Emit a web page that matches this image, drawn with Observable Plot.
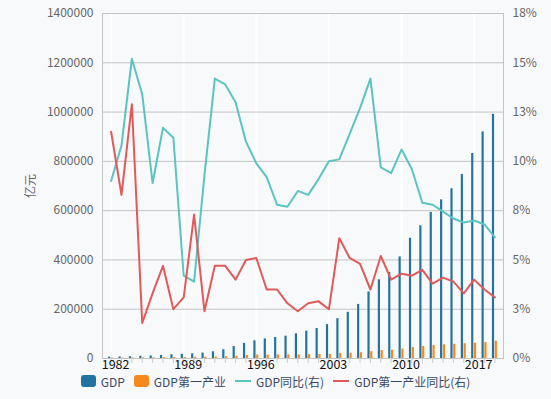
<!DOCTYPE html>
<html><head><meta charset="utf-8">
<script src="https://cdn.jsdelivr.net/npm/d3@7"></script>
<script src="https://cdn.jsdelivr.net/npm/@observablehq/plot@0.6"></script>
<style>
html,body{margin:0;padding:0;background:#f8f9fb;}
#chart{width:551px;height:399px;position:relative;font-family:"Noto Sans CJK SC","Noto Sans",sans-serif;}
#legend{display:flex;justify-content:center;align-items:center;height:18px;font-size:12px;color:#3d4a66;}
.item{display:flex;align-items:center;margin:0 4.5px;}
.sw{width:15px;height:12px;border-radius:3px;margin-right:5px;}
.ln{width:16px;height:2px;margin-right:5px;}
</style></head><body><div id="chart"></div>
<script>
const years = [1982,1983,1984,1985,1986,1987,1988,1989,1990,1991,1992,1993,1994,1995,1996,1997,1998,1999,2000,2001,2002,2003,2004,2005,2006,2007,2008,2009,2010,2011,2012,2013,2014,2015,2016,2017,2018,2019];
const gdp = [5373,6021,7279,9099,10376,12175,15180,17180,18873,22006,27195,35673,48638,61340,71814,79715,85196,90564,100280,110863,121717,137422,161840,187319,219439,270092,319245,348518,412119,487940,538580,592963,643563,688858,746395,832036,919281,990865];
const primary = [1761,1960,2295,2541,2764,3204,3831,4228,5017,5288,5800,6887,9471,12020,13878,14265,14618,14549,14717,15502,16190,16970,20904,21806,23317,27674,32464,33584,38430,44781,49085,53028,55626,57774,60139,62100,64745,70467];
const gdpYoY = [9.0,10.8,15.2,13.4,8.9,11.7,11.2,4.2,3.9,9.3,14.2,13.9,13.0,11.0,9.9,9.2,7.8,7.7,8.5,8.3,9.1,10.0,10.1,11.4,12.7,14.2,9.7,9.4,10.6,9.6,7.9,7.8,7.45,7.1,6.9,7.0,6.8,6.15];
const primYoY = [11.5,8.3,12.9,1.8,3.3,4.7,2.5,3.1,7.3,2.4,4.7,4.7,4.0,5.0,5.1,3.5,3.5,2.8,2.4,2.8,2.9,2.5,6.1,5.1,4.8,3.5,5.2,4.0,4.3,4.2,4.5,3.8,4.1,3.9,3.3,4.0,3.5,3.1];
const xTickLabels = [1982,1989,1996,2003,2010,2017];
const yTicks = [0,200000,400000,600000,800000,1000000,1200000,1400000];
const seriesNames = ["GDP","GDP第一产业","GDP同比(右)","GDP第一产业同比(右)"];
const colors = ["#23739f","#f7891c","#5bc4c2","#e05a5a"];

const K = 1400000 / 17.5; // right-axis percent -> left-axis units
const data = years.map((y,i)=>({year:y, gdp:gdp[i], prim:primary[i], gy:gdpYoY[i], py:primYoY[i]}));

const plot = Plot.plot({
  width: 551, height: 372,
  marginLeft: 102, marginRight: 48, marginTop: 13, marginBottom: 14,
  style: {background: "transparent", fontFamily: '"Noto Sans CJK SC","Noto Sans",sans-serif', fontSize: "12px", overflow: "visible"},
  x: {type: "band", domain: years, paddingInner: 0, paddingOuter: 0.33, align: 0.5, round: false},
  y: {domain: [0, 1400000]},
  marks: [
    Plot.gridX(xTickLabels, {stroke: "#ffffff", strokeOpacity: 1, strokeWidth: 2}),
    Plot.gridY(yTicks, {stroke: "#c4c4c4", strokeOpacity: 1}),
    Plot.frame({stroke: "#c4c4c4"}),
    Plot.barY(data, {x: "year", y: "gdp", fill: colors[0], insetLeft: 2.7, insetRight: 5.5}),
    Plot.barY(data, {x: "year", y: "prim", fill: colors[1], insetLeft: 5.5, insetRight: 2.7}),
    Plot.line(data, {x: "year", y: d => d.gy * K, stroke: colors[2], strokeWidth: 2}),
    Plot.line(data, {x: "year", y: d => d.py * K, stroke: colors[3], strokeWidth: 2}),
    Plot.axisX(years, {tickSize: 5, stroke: "#c8ccd4", tickFormat: () => "", label: null}),
    Plot.axisX(xTickLabels, {tickSize: 0, tickPadding: 2, dx: 4.5, color: "#111", fontSize: 12.5, tickFormat: d => String(d), label: null}),
    Plot.axisY(yTicks, {anchor: "left", tickSize: 0, tickPadding: 9, color: "#666", tickFormat: d => String(d), label: "亿元", labelAnchor: "center", labelOffset: 76, labelArrow: "none"}),
    Plot.axisY(yTicks, {anchor: "right", tickSize: 0, tickPadding: 9, color: "#666", tickFormat: d => Math.round(d / K) + "%", label: null})
  ]
});
const chart = document.getElementById("chart");
chart.appendChild(plot);
const legend = document.createElement("div");
legend.id = "legend";
seriesNames.forEach((name, i) => {
  const it = document.createElement("div");
  it.className = "item";
  const sw = document.createElement("span");
  sw.className = i < 2 ? "sw" : "ln";
  sw.style.background = colors[i];
  const tx = document.createElement("span");
  tx.textContent = name;
  it.appendChild(sw); it.appendChild(tx);
  legend.appendChild(it);
});
chart.appendChild(legend);
</script>
</body></html>
